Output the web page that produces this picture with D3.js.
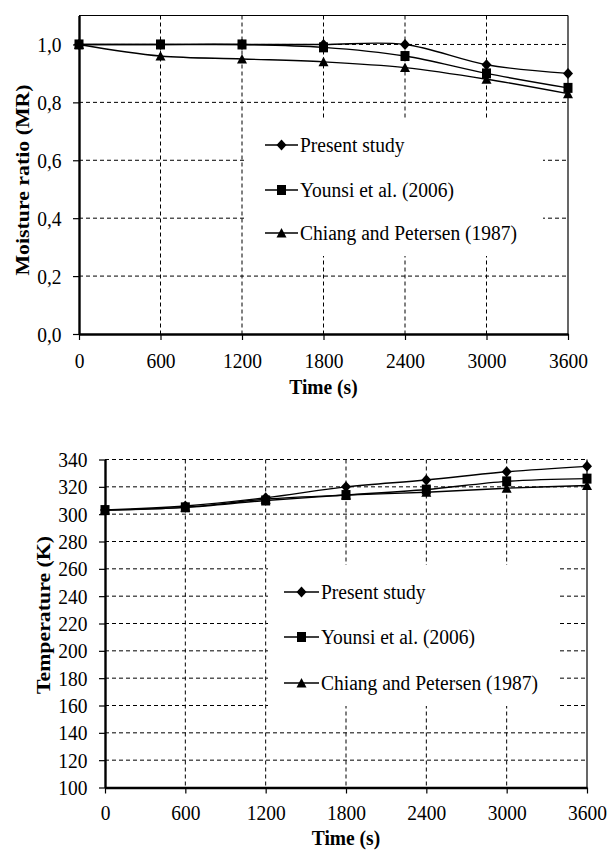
<!DOCTYPE html>
<html>
<head>
<meta charset="utf-8">
<script src="https://cdn.jsdelivr.net/npm/d3@7"></script>
<style>
  body { margin: 0; background: #fff; }
  text { font-family: "Liberation Serif", "Times New Roman", serif; fill: #000; }
</style>
</head>
<body>
<svg id="chart" width="611" height="850"></svg>
<script>
// data
const timeS = [0, 600, 1200, 1800, 2400, 3000, 3600];
const seriesNames = ['Present study', 'Younsi et al. (2006)', 'Chiang and Petersen (1987)'];
const seriesMarkers = ['diamond', 'square', 'triangle'];

const mrPresent = [1.0, 1.0, 1.0, 1.0, 1.0, 0.93, 0.90];
const mrYounsi = [1.0, 1.0, 1.0, 0.99, 0.96, 0.90, 0.85];
const mrChiang = [1.0, 0.96, 0.95, 0.94, 0.92, 0.88, 0.83];

const tempPresent = [303, 306, 312, 320, 325, 331, 335];
const tempYounsi = [303, 305, 310, 314, 318, 324, 326];
const tempChiang = [303, 305, 311, 314, 316, 319, 321];

const mrTicks = [0, 0.2, 0.4, 0.6, 0.8, 1.0];
const tempTicks = [100, 120, 140, 160, 180, 200, 220, 240, 260, 280, 300, 320, 340];

// text in the figure is a bit taller than its width suggests
const k = 1.12;
const fontSize = 19.5;
const commaFmt = d3.formatLocale({ decimal: ',', thousands: '.', grouping: [3], currency: ['', ''] }).format('.1f');
const plainFmt = d => String(d);

const svg = d3.select('#chart');

function markerPath(type) {
  if (type === 'diamond') return 'M0,-5.5L5,0L0,5.5L-5,0Z';
  if (type === 'square') return 'M-4.5,-5L4.5,-5L4.5,5L-4.5,5Z';
  return 'M0,-5L5,4.5L-5,4.5Z';
}

function drawPanel(cfg) {
  const x = d3.scaleLinear().domain([0, 3600]).range([cfg.left, cfg.right]);
  const y = d3.scaleLinear().domain(cfg.yDomain).range([cfg.bottom, cfg.top]);
  const g = svg.append('g');

  // horizontal grid
  g.selectAll('.hgrid')
    .data(cfg.yTicks.filter(d => d !== cfg.yDomain[0]))
    .enter()
    .append('line')
    .attr('x1', cfg.left)
    .attr('x2', cfg.right)
    .attr('y1', d => y(d))
    .attr('y2', d => y(d))
    .attr('stroke', '#000')
    .attr('stroke-width', 1)
    .attr('stroke-dasharray', '4,3');

  // vertical grid
  g.selectAll('.vgrid')
    .data(timeS.slice(1, -1))
    .enter()
    .append('line')
    .attr('x1', d => x(d))
    .attr('x2', d => x(d))
    .attr('y1', cfg.top)
    .attr('y2', cfg.bottom)
    .attr('stroke', '#000')
    .attr('stroke-width', 1)
    .attr('stroke-dasharray', '4,3');

  // legend background hides the grid behind it
  const lg = cfg.legend;
  g.append('rect')
    .attr('x', lg.x0)
    .attr('y', lg.y0)
    .attr('width', lg.x1 - lg.x0)
    .attr('height', lg.y1 - lg.y0)
    .attr('fill', '#fff');

  // right border (and top when solid)
  g.append('line')
    .attr('x1', cfg.right).attr('x2', cfg.right)
    .attr('y1', cfg.top).attr('y2', cfg.bottom)
    .attr('stroke', '#000').attr('stroke-width', 1.2);
  if (cfg.topSolid) {
    g.append('line')
      .attr('x1', cfg.left).attr('x2', cfg.right)
      .attr('y1', cfg.top).attr('y2', cfg.top)
      .attr('stroke', '#000').attr('stroke-width', 1.2);
  }

  // axes
  const xAxis = d3.axisBottom(x).tickValues(timeS).tickFormat(plainFmt).tickSize(6).tickSizeOuter(0);
  const yAxis = d3.axisLeft(y).tickValues(cfg.yTicks).tickFormat(cfg.fmt).tickSize(6).tickSizeOuter(0);

  const gx = g.append('g')
    .attr('transform', `translate(0, ${cfg.bottom})`)
    .call(xAxis);
  const gy = g.append('g')
    .attr('transform', `translate(${cfg.left}, 0)`)
    .call(yAxis);

  [gx, gy].forEach(ax => {
    ax.select('.domain').attr('stroke-width', 2.4);
    ax.selectAll('.tick line').attr('stroke-width', 1.2);
    ax.selectAll('text')
      .attr('font-family', '"Liberation Serif", "Times New Roman", serif')
      .attr('font-size', fontSize)
      .attr('fill', '#000')
      .attr('dy', null)
      .attr('transform', `scale(1, ${k})`);
  });
  gx.selectAll('text').attr('y', cfg.xLabelBase / k);
  gy.selectAll('text').attr('x', -17.5).attr('y', 7 / k);

  // series
  const line = d3.line()
    .x((d, i) => x(timeS[i]))
    .y(d => y(d))
    .curve(d3.curveCardinal.tension(0));

  cfg.series.forEach((vals, si) => {
    g.append('path')
      .datum(vals)
      .attr('d', line)
      .attr('fill', 'none')
      .attr('stroke', '#000')
      .attr('stroke-width', 1.4);
  });
  cfg.series.forEach((vals, si) => {
    g.selectAll(null)
      .data(vals)
      .enter()
      .append('path')
      .attr('d', markerPath(seriesMarkers[si]))
      .attr('transform', (d, i) => `translate(${x(timeS[i])}, ${y(d)})`)
      .attr('fill', '#000');
  });

  // legend
  seriesNames.forEach((name, i) => {
    const cy = lg.rows[i];
    g.append('line')
      .attr('x1', lg.lx0).attr('x2', lg.lx1)
      .attr('y1', cy).attr('y2', cy)
      .attr('stroke', '#000').attr('stroke-width', 1.4);
    g.append('path')
      .attr('d', markerPath(seriesMarkers[i]))
      .attr('transform', `translate(${(lg.lx0 + lg.lx1) / 2}, ${cy})`)
      .attr('fill', '#000');
    g.append('text')
      .attr('transform', `translate(${lg.tx}, ${cy + 7}) scale(1, ${k})`)
      .attr('font-size', fontSize)
      .text(name);
  });

  // axis titles
  g.append('text')
    .attr('transform', `translate(${cfg.xTitle[0]}, ${cfg.xTitle[1] + 7}) scale(1, ${k})`)
    .attr('text-anchor', 'middle')
    .attr('font-size', fontSize)
    .attr('font-weight', 'bold')
    .text('Time (s)');

  g.append('text')
    .attr('transform', `translate(${cfg.yTitle[0] + 7}, ${cfg.yTitle[1]}) rotate(-90) scale(${k}, 1)`)
    .attr('text-anchor', 'middle')
    .attr('font-size', fontSize)
    .attr('font-weight', 'bold')
    .text(cfg.yTitleText);
}

// top panel: moisture ratio
drawPanel({
  left: 79, right: 568, top: 15.5, bottom: 334,
  yDomain: [0, 1.1],
  yTicks: mrTicks,
  fmt: commaFmt,
  topSolid: true,
  xLabelBase: 34,
  series: [mrPresent, mrYounsi, mrChiang],
  legend: { x0: 244, x1: 543, y0: 120, y1: 256, lx0: 265, lx1: 298, tx: 300, rows: [145, 190, 233] },
  xTitle: [323.5, 387],
  yTitle: [22, 180],
  yTitleText: 'Moisture ratio (MR)'
});

// bottom panel: temperature
drawPanel({
  left: 105, right: 587, top: 459.5, bottom: 787.5,
  yDomain: [100, 340],
  yTicks: tempTicks,
  fmt: d3.format('d'),
  topSolid: false,
  xLabelBase: 33,
  series: [tempPresent, tempYounsi, tempChiang],
  legend: { x0: 268, x1: 560, y0: 565, y1: 706, lx0: 284, lx1: 319, tx: 321, rows: [592, 637, 683] },
  xTitle: [346, 838],
  yTitle: [42.5, 615],
  yTitleText: 'Temperature (K)'
});
</script>
</body>
</html>
